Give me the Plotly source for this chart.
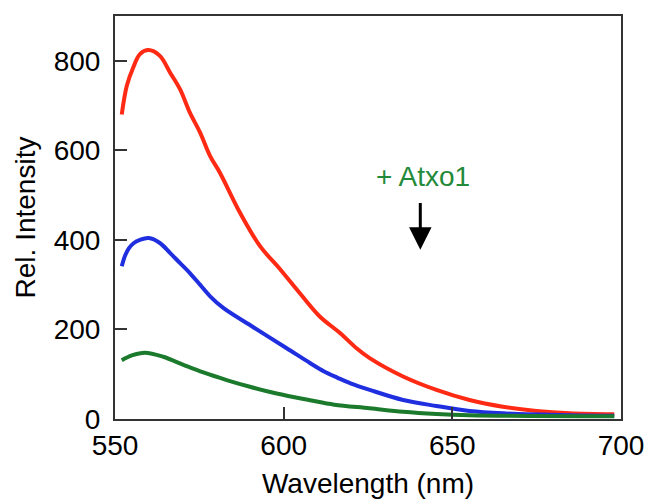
import plotly.graph_objects as go

# Wavelength (nm) and relative intensity for each trace
red_x = [552, 553.5, 555.4, 557.4, 559.9, 563.3, 566.3, 569.3, 572.2, 575.2, 578.2, 581.1,
         587.1, 593, 599, 604.8, 610.7, 616.7, 621.6, 625.5, 635.4, 645.3, 655.1, 665,
         674.9, 684.8, 698]
red_y = [680, 744, 785, 815, 824, 811, 774, 736, 684, 640, 587, 550,
         460, 386, 334, 281, 229, 192, 158, 136, 95, 65, 42.5, 27.5,
         18, 12.7, 10.5]

blue_x = [552, 553, 554.1, 555.6, 557.4, 560, 563.3, 566.3, 569.3, 572.2, 575.2, 578.2, 582.1, 591,
          600.9, 607.8, 612, 616, 620, 625.5, 635.4, 645.3, 655.1, 665, 684.8, 698]
blue_y = [341, 365, 381, 393, 400, 404, 393, 371, 348, 326, 300, 274, 248, 205,
          158, 125, 106, 92, 79, 65, 42.5, 29, 18, 12.7, 8.3, 7]

green_x = [552, 555, 558.9, 564.3, 570.3, 576.2, 583.1, 590, 597.9, 607.8, 615, 625.5,
           635.4, 645.3, 655.1, 698]
green_y = [131, 142, 148, 139, 121, 104, 87, 72, 57, 42, 32, 24,
           16, 11, 8.3, 6]

x_ticks = [550, 600, 650, 700]
y_ticks = [0, 200, 400, 600, 800]

annot_text = "+ Atxo1"
annot_x = 641.3
annot_y = 542
arrow_x = 640.5
arrow_top = 486
arrow_tip = 378

FONT = "Liberation Sans, Arial, Helvetica, sans-serif"
FS = 28

fig = go.Figure()
for xs, ys, col in [(red_x, red_y, "#ff2a14"), (blue_x, blue_y, "#1f2fe0"), (green_x, green_y, "#1b7a2c")]:
    fig.add_trace(go.Scatter(x=xs, y=ys, mode="lines",
                             line=dict(color=col, width=4, shape="spline", smoothing=1.0),
                             showlegend=False, hoverinfo="skip"))

fig.add_annotation(x=annot_x, y=annot_y, text=annot_text, showarrow=False,
                   font=dict(family=FONT, size=FS, color="#238a3a"))
fig.add_annotation(x=arrow_x, y=arrow_tip, ax=arrow_x, ay=arrow_top, axref="x", ayref="y",
                   text="", showarrow=True, arrowhead=2, arrowwidth=3, arrowsize=1.5,
                   arrowcolor="black")

axis_common = dict(showgrid=False, zeroline=False, showline=True, linecolor="#333333",
                   linewidth=2, mirror=True, ticks="inside", ticklen=12, tickwidth=1.5,
                   tickcolor="#333333", automargin=False, ticklabeloverflow="allow",
                   tickfont=dict(family=FONT, size=FS, color="black"))

fig.update_xaxes(range=[550, 700], tickvals=x_ticks, ticktext=[str(v) for v in x_ticks],
                 title=dict(text="Wavelength (nm)", font=dict(family=FONT, size=FS, color="black"),
                            standoff=22),
                 **axis_common)
fig.update_yaxes(range=[0, 900], tickvals=y_ticks, ticktext=[str(v) for v in y_ticks],
                 ticklabelstandoff=7,
                 title=dict(text="Rel. Intensity", font=dict(family=FONT, size=FS, color="black"),
                            standoff=10),
                 **axis_common)

fig.update_layout(width=646, height=499, margin=dict(l=115, r=25, t=16, b=80),
                  plot_bgcolor="white", paper_bgcolor="white")

fig.write_html("out.html", config={"displayModeBar": False},
               post_script="document.body.style.margin='0';document.body.style.overflow='hidden';")
